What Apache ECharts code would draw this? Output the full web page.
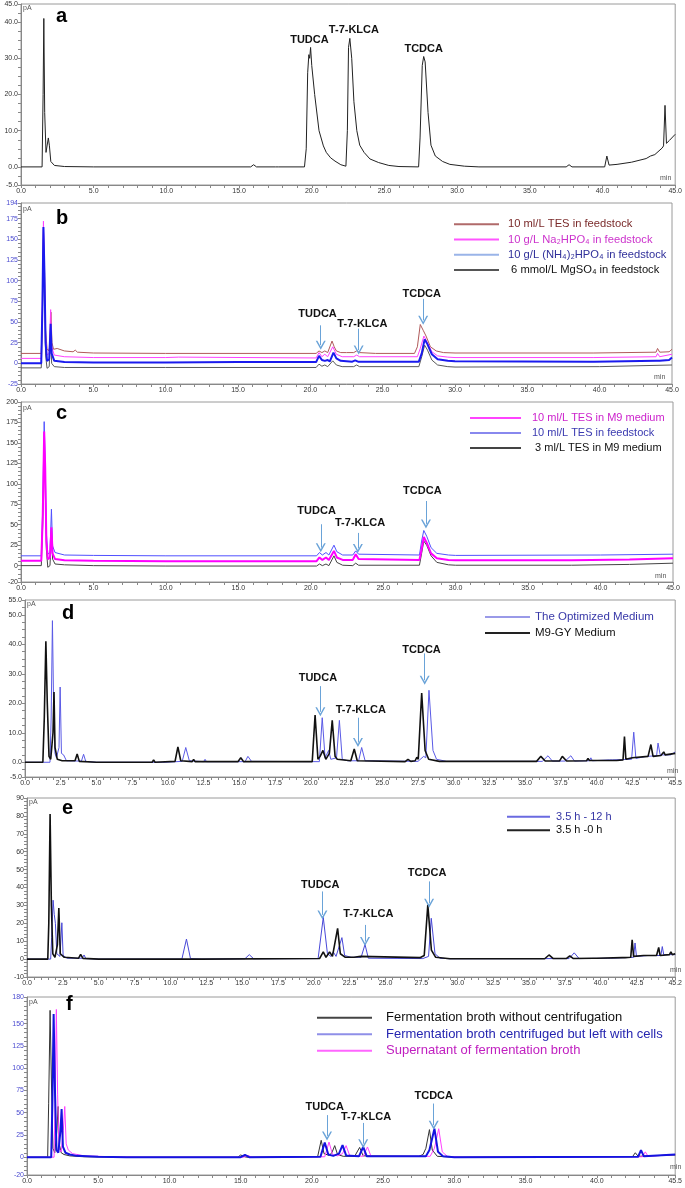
<!DOCTYPE html>
<html><head><meta charset="utf-8">
<script src="https://cdn.jsdelivr.net/npm/echarts@6/dist/echarts.min.js"></script>
<style>html,body{margin:0;padding:0;background:#fff}#c{width:685px;height:1188px}</style>
</head><body><div id="c"></div>
<script>
// ---------------- DATA ----------------
const peakNames = ['TUDCA', 'T-7-KLCA', 'TCDCA'];

// panel a
const aTrace = [[0,0],[1.45,0],[1.52,20],[1.57,41],[1.63,15],[1.72,4],[1.8,3.5],[1.88,8],[1.95,6],[2.05,1.5],[2.3,0.4],[3,0.1],[5,0],[15.8,0],[16.0,0.6],[16.2,0],[17.5,0],[17.6,0.3],[17.7,0],[19.5,0],[19.62,5],[19.72,26],[19.8,31],[19.86,30],[19.92,33],[20.0,28],[20.2,20],[20.5,10],[20.8,5.8],[21.0,4],[21.3,2.5],[21.6,1.6],[22.0,0.6],[22.35,0.2],[22.45,10],[22.53,33],[22.62,35.5],[22.75,30],[22.9,18],[23.1,10],[23.3,6],[23.6,4],[24.0,2.2],[24.6,1.2],[25.3,0.4],[26,0.1],[27.35,0],[27.45,8],[27.6,28],[27.7,30.5],[27.8,29],[28.0,15],[28.2,6],[28.5,3],[29.0,1.5],[29.5,0.7],[30.5,0.2],[31.5,0],[37.5,0],[37.7,0.6],[37.9,0],[40.15,0],[40.3,3],[40.45,0.5],[41,0.7],[42,1.3],[43,2.3],[43.3,3],[43.6,3.4],[44.1,5.2],[44.2,5.8],[44.3,17],[44.4,6.5],[44.6,7.3],[45,9]];

// panel b
const bNames = ['10 ml/L TES in feedstock','10 g/L Na\u2082HPO\u2084 in feedstock','10 g/L (NH\u2084)\u2082HPO\u2084 in feedstock',' 6 mmol/L MgSO\u2084 in feedstock'];
const bTES = [[0,12],[1.4,12],[1.48,60],[1.55,163],[1.62,120],[1.7,40],[1.8,18],[1.9,15],[2.0,20],[2.07,62],[2.14,25],[2.25,17],[2.5,18],[3.0,15],[3.6,14],[3.75,16],[3.9,13.5],[5,12.5],[10,12],[15,12],[20.4,12],[20.6,15],[20.8,13],[21.0,15],[21.2,13],[21.5,27],[21.65,20],[21.8,15],[22.1,13],[22.5,13],[23.0,13],[23.2,15],[23.4,13],[24.5,12],[27.2,12],[27.4,20],[27.6,47],[27.8,40],[28.0,33],[28.3,20],[28.7,15],[29.2,13],[30,12.5],[39.4,12.5],[39.5,13.5],[39.6,12.5],[43.9,13.5],[44.0,18],[44.15,13.5],[44.8,14],[45,17]];
const bNa = [[0,6],[1.4,6],[1.48,80],[1.55,172],[1.6,130],[1.7,30],[1.8,10],[1.95,12],[2.05,65],[2.12,20],[2.3,10],[3,8],[5,7],[10,7],[10.9,7.5],[11,6.5],[20.4,6.5],[20.6,13],[20.8,8],[21.0,11],[21.2,8],[21.55,20],[21.8,11],[22.2,8],[23.0,8],[23.2,10],[23.4,8],[27.4,8],[27.6,18],[27.85,33],[28.1,25],[28.4,14],[28.8,9],[29.5,7.5],[30,7],[39.4,7],[39.5,8],[39.6,7],[43.9,8],[44.0,12],[44.15,8],[45,11]];
const bNH4 = [[0,0],[1.4,0],[1.48,70],[1.55,165],[1.62,110],[1.7,25],[1.8,3],[1.95,5],[2.05,48],[2.12,12],[2.3,3],[3,1.5],[5,1],[10,1],[15,1.5],[20.4,1.5],[20.6,9],[20.8,4],[21.0,3],[21.2,4],[21.35,2.5],[21.6,13],[21.8,6],[22.1,3],[22.9,2],[23.1,3.5],[23.3,2],[27.5,2],[27.7,12],[27.9,29],[28.1,23],[28.4,11],[28.8,5],[29.5,3],[30,2.5],[39.4,2],[39.5,3],[39.6,2],[43.9,3],[44.0,5],[44.15,3],[44.8,4],[45,7]];
const bMg = [[0,-5.5],[1.4,-5.5],[1.48,50],[1.55,150],[1.62,90],[1.7,10],[1.8,-6],[1.95,-4],[2.05,35],[2.12,0],[2.3,-4],[3,-5],[10,-5],[20.4,-5],[20.6,-1],[20.8,-3.5],[21.0,-2],[21.2,-4],[21.55,3],[21.8,-2],[22.2,-4],[23.0,-4],[23.2,-2],[23.4,-4],[27.5,-4],[27.7,8],[27.9,22],[28.1,16],[28.4,4],[28.8,-2],[29.5,-4],[30,-4.5],[40,-4],[45,-2]];

// panel c
const cNames = ['10 ml/L TES in M9 medium','10 ml/L TES in feedstock',' 3 ml/L TES in M9 medium'];
const cTESM9 = [[0,6],[1.4,6],[1.5,60],[1.6,164],[1.67,120],[1.75,30],[1.85,8],[2.0,10],[2.1,47],[2.18,15],[2.35,8],[3,6.5],[5,6],[10,5.5],[20.4,5.5],[20.6,10],[20.8,7],[21.05,10],[21.25,7],[21.6,18],[21.8,10],[22.2,7],[22.9,7],[23.1,14],[23.3,8],[27.5,7],[27.65,20],[27.8,35],[28.0,28],[28.3,15],[28.7,9],[29.5,7],[30,6.5],[38,6.5],[42,7.5],[45,9]];
const cTESFeed = [[0,12],[1.4,12],[1.5,70],[1.6,176],[1.67,125],[1.75,40],[1.85,14],[2.0,16],[2.1,69],[2.18,24],[2.35,16],[3,13],[5,12.5],[10,12],[20.4,12],[20.6,16],[20.8,13],[21.05,16],[21.25,13],[21.6,25],[21.8,17],[22.2,13],[22.9,13],[23.1,18],[23.3,14],[27.5,13],[27.65,30],[27.8,43],[28.0,36],[28.3,22],[28.7,15],[29.5,13],[30,12.5],[40,13],[45,14]];
const c3TES = [[0,0],[1.4,0],[1.5,50],[1.6,140],[1.67,100],[1.75,20],[1.85,-2],[2.0,0],[2.1,40],[2.18,8],[2.35,2],[3,1],[5,0],[10,-0.5],[20.4,-0.5],[20.6,2],[20.8,0],[21.05,2],[21.25,0],[21.6,12],[21.8,4],[22.2,0.5],[22.9,0],[23.1,3],[23.3,0.5],[27.5,0.5],[27.65,15],[27.8,30],[28.0,25],[28.3,12],[28.7,4],[29.5,1],[30,0.5],[38,0.5],[42,1.5],[45,3]];

// panel d
const dNames = ['The Optimized Medium','M9-GY Medium'];
const dOpt = [[0,0],[1.75,0],[1.83,15],[1.92,48],[2.0,20],[2.1,3],[2.2,1.5],[2.38,5],[2.46,25.5],[2.55,3],[2.7,2.5],[2.9,0.5],[3.95,0.4],[4.1,2.7],[4.25,0.3],[5,0],[9.6,0],[9.7,0.6],[9.8,0],[11.0,0.3],[11.25,5],[11.5,0.5],[12.5,0.2],[12.6,1],[12.7,0.2],[15.4,0.2],[15.6,2],[15.85,0.3],[20.6,0.2],[20.8,15.1],[21.0,1.5],[21.25,4],[21.4,1],[21.8,1.5],[22.0,14.2],[22.2,1],[22.6,0.5],[23.35,0.5],[23.56,5],[23.8,0.5],[27.5,0.3],[27.9,2],[28.05,1.5],[28.27,24.4],[28.55,4],[28.8,1],[29.5,0.3],[36.2,0.3],[36.6,2.2],[36.9,0.4],[37.8,0.4],[38.2,2.2],[38.45,0.4],[39.5,0.5],[39.6,1.5],[39.7,0.5],[40.9,0.8],[41.0,1.3],[41.1,0.8],[42.45,1],[42.6,10.2],[42.75,1.3],[43.5,2],[44.2,2.2],[44.3,6.5],[44.45,2.5],[45.2,2.5],[45.5,3.5]];
const dM9 = [[0,0],[1.25,0],[1.35,15],[1.46,41],[1.56,20],[1.68,2],[1.8,1],[1.96,10],[2.03,23.8],[2.1,5],[2.18,3],[2.26,1],[2.6,0.5],[3.5,0.5],[3.65,2.8],[3.8,0.3],[5,0],[8.9,0],[9.0,0.8],[9.1,0],[10.5,0.3],[10.7,5.2],[10.9,0.5],[11.7,0.2],[11.8,1],[11.9,0.2],[14.9,0.2],[15.1,1.5],[15.3,0.2],[20.1,0.2],[20.3,16],[20.5,1],[20.65,2],[20.85,4],[21.05,1],[21.3,3],[21.5,14.2],[21.7,2],[21.85,1],[22.8,0.5],[23.04,4.5],[23.25,0.5],[26.6,0.2],[26.8,1],[27.0,0.3],[27.3,0.5],[27.42,1.7],[27.52,1],[27.76,23.5],[28.0,4],[28.25,1],[29,0.3],[35.8,0.3],[36.1,2],[36.4,0.4],[37.4,0.4],[37.6,2],[37.9,0.4],[39.3,0.5],[39.4,1.3],[39.5,0.6],[41.2,0.6],[41.3,1.2],[41.4,0.6],[41.85,0.8],[41.95,8.7],[42.05,1],[42.5,1.5],[43.6,2],[43.8,6],[43.95,2],[44.5,2.3],[44.7,3.5],[44.8,2.5],[45.5,3]];

// panel e
const eNames = ['3.5 h - 12 h','3.5 h -0 h'];
const e12 = [[0,0],[1.65,0],[1.72,12],[1.82,32.9],[1.9,25],[1.98,20],[2.08,3],[2.3,1.5],[2.43,20.3],[2.52,2],[2.8,0.5],[3.85,0.5],[3.98,2.3],[4.1,0.3],[5,0],[10.8,0],[11.12,11.2],[11.4,0.3],[12.2,0],[12.3,0.7],[12.4,0],[15.2,0.2],[15.5,2.5],[15.8,0.2],[20.3,0.3],[20.66,23.3],[20.95,3],[21.2,1.5],[21.36,4],[21.55,1.5],[21.96,12],[22.15,2],[22.6,1],[23.3,1],[23.57,8.2],[23.8,0.5],[27.6,0.3],[28.0,1.5],[28.19,22.8],[28.45,3],[28.8,0.5],[29.5,0.2],[37.8,0.3],[38.16,3.5],[38.5,0.3],[39.7,0.4],[39.8,1.5],[39.9,0.4],[40.5,0.5],[40.6,1.5],[40.7,0.5],[42.3,1],[42.4,9],[42.5,1.5],[43.3,2],[44.2,2],[44.3,7],[44.4,2.5],[45.2,2.5]];
const e0 = [[0,0],[1.45,0],[1.52,20],[1.61,81],[1.7,30],[1.8,3],[1.95,1],[2.12,8],[2.22,28.5],[2.32,3],[2.6,1],[3.6,0.5],[3.74,2.6],[3.9,0.4],[5,0],[9.1,0],[9.2,0.7],[9.3,0],[11.8,0],[11.9,0.8],[12.0,0],[20.4,0.3],[20.66,4],[20.85,1],[21.1,4],[21.3,1.5],[21.66,17.2],[21.85,3],[22.2,1],[22.8,1],[23.27,1.5],[23.4,0.5],[27.4,0.8],[27.7,2],[27.8,1.5],[27.95,30.3],[28.2,5],[28.5,1],[29.5,0.2],[36.1,0.2],[36.4,2.3],[36.7,0.3],[37.6,0.3],[37.85,1.8],[38.1,0.3],[39.5,0.5],[39.6,1.2],[39.7,0.5],[41.5,0.8],[41.6,1.5],[41.7,0.8],[42.1,1],[42.2,10.8],[42.3,1.5],[43,2],[43.9,2],[44.05,6.5],[44.15,2],[44.8,2.5],[44.9,4],[45,2.5],[45.2,3]];

// panel f
const fNames = ['Fermentation broth without centrifugation','Fermentation broth centrifuged but left with cells','Supernatant of fermentation broth'];
const fWhole = [[0,0],[1.45,0],[1.52,60],[1.62,165],[1.72,80],[1.82,10],[1.95,5],[2.1,30],[2.18,57],[2.26,15],[2.4,5],[2.6,3],[3,1.5],[4,0.5],[6,0],[14.8,0],[15.0,2.5],[15.2,1],[15.4,0],[20.4,0.5],[20.65,19],[20.85,4],[21.2,2],[21.4,5],[21.6,13],[21.8,3],[22.2,1],[23.0,1],[23.35,11],[23.6,1.5],[27.5,1],[27.8,3],[28.0,10],[28.25,31],[28.45,8],[28.8,1],[30,0],[42.5,0.5],[42.7,5],[42.9,1],[45.5,2.5]];
const fCells = [[0,0],[1.7,0],[1.78,60],[1.87,161],[1.97,70],[2.07,8],[2.2,5],[2.35,30],[2.43,54],[2.52,12],[2.7,5],[3,3],[3.5,1.5],[5,0.5],[7,0],[15.0,0],[15.3,2.5],[15.6,0],[20.6,0.5],[20.9,16.5],[21.15,3],[21.5,1.5],[21.9,4],[22.15,13.5],[22.4,2],[23.3,1],[23.6,11.5],[23.85,1],[28.0,1],[28.25,8],[28.6,32],[28.85,6],[29.2,1],[30,0],[42.9,0.5],[43.1,8],[43.3,1],[45.5,3]];
const fSuper = [[0,0],[1.9,0],[1.97,60],[2.06,166],[2.15,70],[2.25,10],[2.4,6],[2.55,30],[2.65,57],[2.75,15],[2.9,8],[3.2,4],[4,1.5],[6,0.5],[8,0],[15.2,0],[15.5,2],[15.8,0],[20.9,0.5],[21.2,17],[21.45,3],[21.8,1.5],[22.15,4],[22.4,13],[22.65,2],[23.6,1],[23.9,11.5],[24.15,1],[28.3,1],[28.6,10],[28.9,32],[29.15,6],[29.5,1],[30.5,0],[43.2,0.5],[43.4,6],[43.6,1],[45.5,3]];

// tick labels
const xLabels5 = [0,5,10,15,20,25,30,35,40,45];
const dXLabels = [0,2.5,5,7.5,10,12.5,15,17.5,20,22.5,25,27.5,30,32.5,35,37.5,40,42.5,45.5];
const eXLabels = [0,2.5,5,7.5,10,12.5,15,17.5,20,22.5,25,27.5,30,32.5,35,37.5,40,42.5,45.2];
const fXLabels = [0,5,10,15,20,25,30,35,40,45.5];
const aYLabels = [-5,0,10,20,30,40,45];
const bYLabels = [-25,0,25,50,75,100,125,150,175,194];
const cYLabels = [-20,0,25,50,75,100,125,150,175,200];
const dYLabels = [-5,0,10,20,30,40,50,55];
const eYLabels = [-10,0,10,20,30,40,50,60,70,80,90];
const fYLabels = [-20,0,25,50,75,100,125,150,180];

// ---------------- LAYOUT / STYLE ----------------
const NARROW = "'Liberation Sans Narrow','Arial Narrow','Liberation Sans',sans-serif";
const SANS = "'Liberation Sans',Arial,sans-serif";
const ARROW = 'path://M0,10 L5,0 L10,10 L8.4,10 L5,3.2 L1.6,10 Z';

const panels = [
  {grid:{left:21,right:8,top:4,height:181}, x:{max:45,interval:1,labels:xLabels5}, y:{min:-5,max:45,interval:2.5,labels:aYLabels,dec:1,color:'#333'},
   series:[{d:aTrace,name:'a|trace',color:'#222',w:1}],
   ann:{lx:[19.84,22.9,27.7], ly:[35,37.9,32.7]}, arrows:[]},
  {grid:{left:21,right:13,top:203,height:181}, x:{max:45,interval:1,labels:xLabels5}, y:{min:-25,max:194,interval:5,labels:bYLabels,dec:0,color:'#4a4ad0'},
   series:[{d:bMg,name:'b|'+bNames[3],color:'#5a5a5a',w:1},{d:bTES,name:'b|'+bNames[0],color:'#b05a5a',w:1},{d:bNa,name:'b|'+bNames[1],color:'#ff40ff',w:1},{d:bNH4,name:'b|'+bNames[2],color:'#1a1aee',w:2}],
   legend:{left:454,top:216.5,w:45,lh:15.3,gap:0,pad:4,fs:11.2,items:[[bNames[0],'#7a2a2a','#b06a6a'],[bNames[1],'#cc33cc','#ff55ff'],[bNames[2],'#30309a','#9ab4e8'],[bNames[3],'#111','#555']]},
   ann:{lx:[20.5,23.6,27.7], ly:[60,48,84.5]}, arrows:[[20.72,46,22],[23.34,42,16],[27.8,78,52]]},
  {grid:{left:21,right:12,top:402,height:180}, x:{max:45,interval:1,labels:xLabels5}, y:{min:-20,max:200,interval:5,labels:cYLabels,dec:0,color:'#333'},
   series:[{d:c3TES,name:'c|'+cNames[2],color:'#444',w:1},{d:cTESFeed,name:'c|'+cNames[1],color:'#5050ff',w:1},{d:cTESM9,name:'c|'+cNames[0],color:'#ff00ff',w:2}],
   legend:{left:470,top:410.5,w:51,lh:15,gap:0,pad:6,fs:11,items:[[cNames[0],'#cc22cc','#ff44ff'],[cNames[1],'#3a3ab0','#8888ee'],[cNames[2],'#111','#444']]},
   ann:{lx:[20.4,23.4,27.7], ly:[67,52,91.5]}, arrows:[[20.69,50.6,22],[23.25,40,21],[27.95,79,51]]},
  {grid:{left:25,right:1,top:600,height:177}, x:{max:45.5,interval:0.5,labels:dXLabels}, y:{min:-5,max:55,interval:2.5,labels:dYLabels,dec:1,color:'#333'},
   series:[{d:dOpt,name:'d|'+dNames[0],color:'#5a5ae6',w:1},{d:dM9,name:'d|'+dNames[1],color:'#111',w:1.6}],
   legend:{left:485,top:609,w:45,lh:16,gap:0,pad:0,fs:11.5,items:[[dNames[0],'#3838a8','#9a9ae8'],[dNames[1],'#111','#222']]},
   ann:{lx:[20.5,23.5,27.75], ly:[28.6,17.7,38.2]}, arrows:[[20.67,25.8,17.1],[23.3,15.1,6.7],[27.97,36.9,27.8]]},
  {grid:{left:27,right:0,top:798,height:179}, x:{max:45.2,interval:0.5,labels:eXLabels}, y:{min:-10,max:90,interval:2,labels:eYLabels,dec:0,color:'#333'},
   series:[{d:e12,name:'e|'+eNames[0],color:'#4848d8',w:1},{d:e0,name:'e|'+eNames[1],color:'#111',w:1.6}],
   legend:{left:507,top:810,w:43,lh:13.5,gap:0,pad:1,fs:11,items:[[eNames[0],'#3535a5','#6a6ae0'],[eNames[1],'#111','#222']]},
   ann:{lx:[20.45,23.8,27.9], ly:[41.6,25.1,48]}, arrows:[[20.6,37.8,24.7],[23.57,19.1,9.8],[28.04,43.4,31.2]]},
  {grid:{left:27,right:0,top:997,height:178}, x:{max:45.5,interval:1,labels:fXLabels}, y:{min:-20,max:180,interval:5,labels:fYLabels,dec:0,color:'#4a4ad0'},
   series:[{d:fWhole,name:'f|'+fNames[0],color:'#333',w:1},{d:fSuper,name:'f|'+fNames[2],color:'#ff40ff',w:1},{d:fCells,name:'f|'+fNames[1],color:'#1414e0',w:2}],
   legend:{left:317,top:1009.5,w:55,lh:16.5,gap:0,pad:9,fs:13,items:[[fNames[0],'#111','#444'],[fNames[1],'#2525b0','#8f8fe8'],[fNames[2],'#c020c0','#ff66ff']]},
   ann:{lx:[20.9,23.8,28.55], ly:[56.6,45.4,68.6]}, arrows:[[21.06,47.3,23.9],[23.6,38.5,15.2],[28.55,60.3,36]]}
];
const prefixes = ['a','b','c','d','e','f'];
const letterPos = [[62,18],[62,220],[62,415],[68,615],[68,810],[72,1006]];
const pAPos = [[27,9],[27,210],[27,409],[31,605],[33,803],[33,1003]];
const minPos = [[666,179],[660,378],[661,577],[673,772],[676,971],[676,1168]];

const grids=[], xAxes=[], yAxes=[], series=[], legends=[], graphics=[];
panels.forEach((p,i)=>{
  grids.push(Object.assign({show:true,borderColor:'#9a9a9a',borderWidth:1,backgroundColor:'#fff'},p.grid));
  xAxes.push({type:'value',gridIndex:i,min:0,max:p.x.max,interval:p.x.interval,
    axisLine:{show:true,onZero:false,lineStyle:{color:'#888'}},
    axisTick:{show:true,length:3,lineStyle:{color:'#888'}},
    splitLine:{show:false},
    axisLabel:{customValues:p.x.labels,formatter:v=>v.toFixed(1),fontSize:7,color:'#333',margin:3,fontFamily:SANS}});
  yAxes.push({type:'value',gridIndex:i,min:p.y.min,max:p.y.max,interval:p.y.interval,
    axisLine:{show:true,onZero:false,lineStyle:{color:'#888'}},
    axisTick:{show:true,length:3,lineStyle:{color:'#888'}},
    splitLine:{show:false},
    axisLabel:{customValues:p.y.labels,formatter:v=>v.toFixed(p.y.dec),fontSize:7,color:p.y.color,margin:3,fontFamily:SANS}});
  p.series.forEach((s,k)=>{
    const ser={type:'line',name:s.name,data:s.d,xAxisIndex:i,yAxisIndex:i,showSymbol:false,symbol:'none',
      lineStyle:{color:s.color,width:s.w},itemStyle:{color:s.color},silent:true,animation:false,clip:true};
    if(k===p.series.length-1){
      ser.markPoint={symbol:'circle',symbolSize:1,itemStyle:{color:'rgba(0,0,0,0)'},silent:true,
        label:{show:true,position:'inside',formatter:'{b}',color:'#111',fontFamily:NARROW,fontWeight:'bold',fontSize:11},
        data:peakNames.map((n,j)=>({name:n,coord:[p.ann.lx[j],p.ann.ly[j]]}))};
      if(p.arrows.length){
        ser.markLine={silent:true,symbol:['none',ARROW],symbolSize:[10,9],animation:false,
          lineStyle:{color:'#6aa3d8',width:1,type:'solid'},label:{show:false},emphasis:{disabled:true},
          data:p.arrows.map(a=>[{coord:[a[0],a[1]]},{coord:[a[0],a[2]]}])};
      }
    }
    series.push(ser);
  });
  if(p.legend){
    const L=p.legend;
    legends.push({orient:'vertical',left:L.left,top:L.top,itemWidth:L.w,itemHeight:2,icon:'rect',itemGap:L.gap,
      selectedMode:false,padding:0,
      formatter:n=>n.split('|')[1],
      textStyle:{fontFamily:NARROW,fontSize:L.fs,lineHeight:L.lh,padding:[0,0,0,L.pad]},
      data:L.items.map(it=>({name:prefixes[i]+'|'+it[0],textStyle:{color:it[1]},itemStyle:{color:it[2]}}))});
  }
  graphics.push({type:'text',left:letterPos[i][0]-6,top:letterPos[i][1]-12,style:{text:prefixes[i],font:'bold 20px '+SANS,fill:'#000'}});
  graphics.push({type:'text',left:pAPos[i][0]-4,top:pAPos[i][1]-4,style:{text:'pA',font:'7px '+SANS,fill:'#555'}});
  graphics.push({type:'text',left:minPos[i][0]-6,top:minPos[i][1]-4,style:{text:'min',font:'7px '+SANS,fill:'#555'}});
});

const chart = echarts.init(document.getElementById('c'),null,{renderer:'canvas'});
chart.setOption({animation:false,backgroundColor:'#fff',grid:grids,xAxis:xAxes,yAxis:yAxes,series:series,legend:legends,graphic:graphics});
</script></body></html>
